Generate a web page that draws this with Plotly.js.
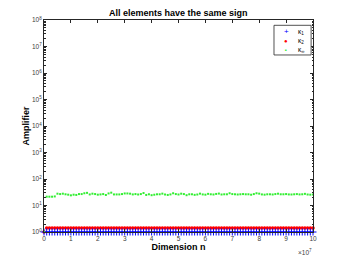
<!DOCTYPE html>
<html><head><meta charset="utf-8">
<script src="https://cdn.plot.ly/plotly-3.0.1.min.js"></script>
<style>html,body{margin:0;padding:0;background:#fff;}#chart{width:346px;height:260px;}</style>
</head><body><div id="chart"></div>
<script>
// Dimension n (first point n = 1, then every 1e6 up to 1e8)
const dimN = [1, 1e6,2e6,3e6,4e6,5e6,6e6,7e6,8e6,9e6,10e6,11e6,12e6,13e6,14e6,15e6,16e6,17e6,18e6,19e6,20e6,
  21e6,22e6,23e6,24e6,25e6,26e6,27e6,28e6,29e6,30e6,31e6,32e6,33e6,34e6,35e6,36e6,37e6,38e6,39e6,40e6,
  41e6,42e6,43e6,44e6,45e6,46e6,47e6,48e6,49e6,50e6,51e6,52e6,53e6,54e6,55e6,56e6,57e6,58e6,59e6,60e6,
  61e6,62e6,63e6,64e6,65e6,66e6,67e6,68e6,69e6,70e6,71e6,72e6,73e6,74e6,75e6,76e6,77e6,78e6,79e6,80e6,
  81e6,82e6,83e6,84e6,85e6,86e6,87e6,88e6,89e6,90e6,91e6,92e6,93e6,94e6,95e6,96e6,97e6,98e6,99e6,100e6];
// kappa_1 values (all ~1)
const kappa1 = [1,1,1,1,1,1,1,1,1,1,1,1,1,1,1,1,1,1,1,1,1,1,1,1,1,1,1,1,1,1,1,1,1,1,1,1,1,1,1,1,1,
  1,1,1,1,1,1,1,1,1,1,1,1,1,1,1,1,1,1,1,1,1,1,1,1,1,1,1,1,1,1,1,1,1,1,1,1,1,1,1,1,
  1,1,1,1,1,1,1,1,1,1,1,1,1,1,1,1,1,1,1,1];
// kappa_2 values (first 1, then ~1.41)
const kappa2 = [1,1.41,1.41,1.41,1.41,1.41,1.41,1.41,1.41,1.41,1.41,1.41,1.41,1.41,1.41,1.41,1.41,1.41,1.41,1.41,1.41,
  1.41,1.41,1.41,1.41,1.41,1.41,1.41,1.41,1.41,1.41,1.41,1.41,1.41,1.41,1.41,1.41,1.41,1.41,1.41,1.41,
  1.41,1.41,1.41,1.41,1.41,1.41,1.41,1.41,1.41,1.41,1.41,1.41,1.41,1.41,1.41,1.41,1.41,1.41,1.41,1.41,
  1.41,1.41,1.41,1.41,1.41,1.41,1.41,1.41,1.41,1.41,1.41,1.41,1.41,1.41,1.41,1.41,1.41,1.41,1.41,1.41,
  1.41,1.41,1.41,1.41,1.41,1.41,1.41,1.41,1.41,1.41,1.41,1.41,1.41,1.41,1.41,1.41,1.41,1.41,1.41,1.41];
// kappa_inf values
const kappaInf = [1,21.5,21.5,21.5,22,27.9,27,27.9,26.5,25.6,24.2,25.6,25,27,27,29,30,26.2,27.9,27,25.6,
  26.2,27,24.9,28.5,30.5,26.2,26.2,26.2,27,28.5,28.5,27.9,26.2,27,26,27,29.5,25,26.5,24.5,
  25.5,26.5,26.5,28,26,25,26.2,29,27,26,27.9,27,24.5,26.5,26.5,25.2,26,28,26.2,25.6,
  27.5,26.5,26,27.3,28.2,26,26.5,26.5,29,27,26.5,26,26.5,27,26.5,26.5,25.5,27,29,28,
  26.2,25.6,26.5,26.5,26,27,27.9,26.5,26.5,27,26.2,26,26.5,27,26.2,26.5,27.5,26,25.6,26.2];

const xTickVals = [0,1e7,2e7,3e7,4e7,5e7,6e7,7e7,8e7,9e7,1e8];
const xTickText = ['0','1','2','3','4','5','6','7','8','9','10'];
const yTickVals = [1,10,100,1e3,1e4,1e5,1e6,1e7,1e8];
const yTickText = ['10<sup>0</sup>','10<sup>1</sup>','10<sup>2</sup>','10<sup>3</sup>','10<sup>4</sup>','10<sup>5</sup>','10<sup>6</sup>','10<sup>7</sup>','10<sup>8</sup>'];
const seriesNames = ['κ<sub>1</sub>','κ<sub>2</sub>','κ<sub>∞</sub>'];
const seriesColors = ['#0000ff','#ff0000','#33ee33'];

const traces = [
  {x: dimN, y: kappa2, name: seriesNames[1], mode: 'markers', type: 'scatter', cliponaxis: false,
   marker: {symbol: 'circle', size: 3.6, color: seriesColors[1]}},
  {x: dimN, y: kappa1, name: seriesNames[0], mode: 'markers', type: 'scatter', cliponaxis: false,
   marker: {symbol: 'cross-thin', size: 5, color: seriesColors[0], line: {color: seriesColors[0], width: 1}}},
  {x: dimN, y: kappaInf, name: seriesNames[2], mode: 'markers', type: 'scatter', cliponaxis: false,
   marker: {symbol: 'square', size: 2, color: seriesColors[2]}}
];

const FONT = 'Liberation Sans, Arial, sans-serif';
const axisCommon = {
  showgrid: false, zeroline: false, showline: true, linecolor: '#262626', linewidth: 1,
  mirror: 'allticks', ticks: 'inside', ticklen: 3, tickcolor: '#262626',
  tickfont: {family: FONT, size: 6.5, color: '#404040'}
};

// legend box (paper coords), drawn as shape + annotations
const lgX0 = 0.855, lgX1 = 0.993, lgY0 = 0.835, lgY1 = 0.975;
const lgRows = [0.945, 0.9, 0.858];
const lgSym = ['+', '●', '■'];
const lgSymSize = [8, 6, 3];
const annotations = [{text: '×10<sup>7</sup>', xref: 'paper', yref: 'paper', x: 0.97, y: -0.065, xanchor: 'center', yanchor: 'top',
                 showarrow: false, font: {family: FONT, size: 6.5, color: '#404040'}}];
for (let i = 0; i < 3; i++) {
  annotations.push({text: lgSym[i], xref: 'paper', yref: 'paper', x: 0.9, y: lgRows[i], xanchor: 'center', yanchor: 'middle',
    showarrow: false, font: {family: FONT, size: lgSymSize[i], color: seriesColors[i]}});
  annotations.push({text: seriesNames[i], xref: 'paper', yref: 'paper', x: 0.937, y: lgRows[i], xanchor: 'left', yanchor: 'middle',
    showarrow: false, font: {family: FONT, size: 6.5, color: '#000'}});
}

const layout = {
  width: 346, height: 260,
  margin: {l: 44, r: 33, t: 20, b: 28},
  paper_bgcolor: '#fff', plot_bgcolor: '#fff',
  showlegend: false,
  title: {text: '<b>All elements have the same sign</b>', x: 0.515, xanchor: 'center', y: 0.95, yanchor: 'middle',
          font: {family: FONT, size: 9, color: '#000'}},
  xaxis: Object.assign({}, axisCommon, {
    range: [0, 1e8], tickvals: xTickVals, ticktext: xTickText,
    title: {text: '<b>Dimension n</b>', standoff: 2, font: {family: FONT, size: 9, color: '#000'}}
  }),
  yaxis: Object.assign({}, axisCommon, {
    type: 'log', range: [0, 8], tickvals: yTickVals, ticktext: yTickText,
    title: {text: '<b>Amplifier</b>', standoff: 0, font: {family: FONT, size: 9, color: '#000'}},
    minor: {ticks: 'inside', ticklen: 1.5, tickcolor: '#262626', dtick: 'D1', showgrid: false}
  }),
  shapes: [{type: 'rect', xref: 'paper', yref: 'paper', x0: lgX0, x1: lgX1, y0: lgY0, y1: lgY1,
            line: {color: '#262626', width: 0.8}, fillcolor: '#fff', layer: 'above'}],
  annotations: annotations
};

Plotly.newPlot('chart', traces, layout, {displayModeBar: false, staticPlot: true});
</script>
</body></html>
